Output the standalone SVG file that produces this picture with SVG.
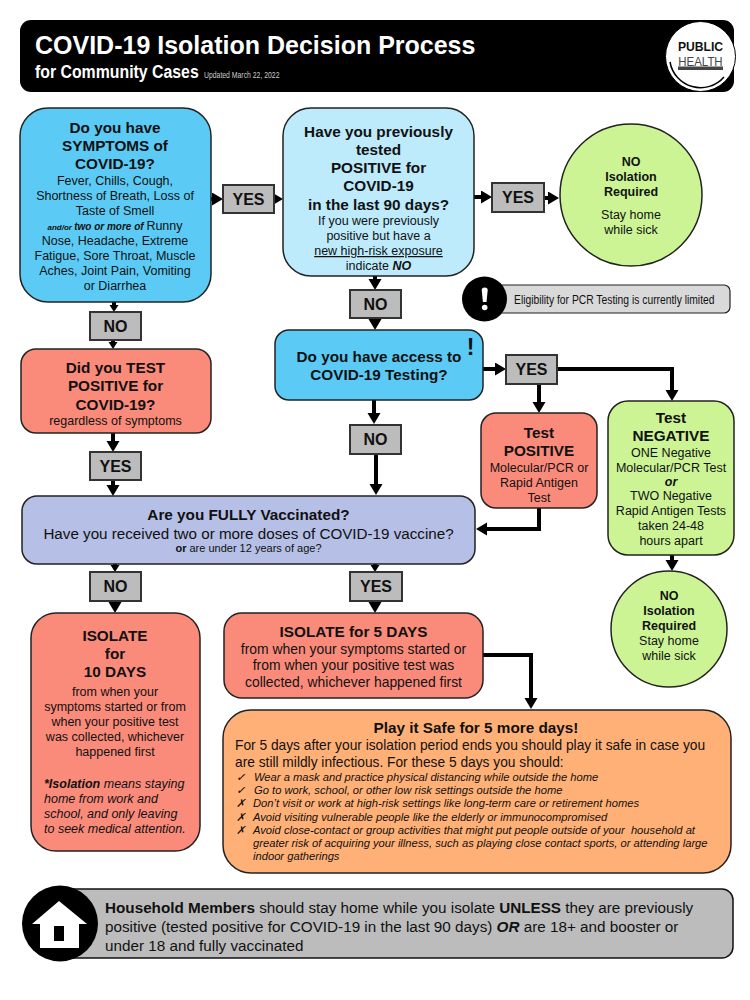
<svg xmlns="http://www.w3.org/2000/svg" width="750" height="1000" viewBox="0 0 750 1000">
<style>
text{font-family:"Liberation Sans",Arial,sans-serif;text-anchor:middle;fill:#111}
.h{font-weight:bold;font-size:15.3px}
.b{font-size:12.5px}
.nb{font-size:12.5px;font-weight:bold}
.l{text-anchor:start}
.i{font-style:italic;font-size:11.2px;text-anchor:start}
.lab{font-weight:bold;font-size:16px}
.box{stroke:#222;stroke-width:1.5}
.tag{fill:#bcbcbc;stroke:#333;stroke-width:2}
.c{fill:none;stroke:#000;stroke-width:4}
.s{marker-end:url(#s)}
.a{marker-end:url(#a)}
</style>
<defs>
<marker id="a" markerUnits="userSpaceOnUse" markerWidth="14" markerHeight="14" refX="3" refY="6.500" orient="auto"><path d="M0 0L11 6.500L0 13Z" fill="#000"/></marker>
<marker id="s" markerUnits="userSpaceOnUse" markerWidth="10" markerHeight="10" refX="0" refY="4.500" orient="auto"><path d="M0 0L7 4.500L0 9Z" fill="#000"/></marker>
</defs>
<rect width="750" height="1000" fill="#fff"/>
<g id="header">
<rect x="20" y="20" width="714" height="72" rx="11" fill="#000"/>
<text class="l" x="35" y="54" font-size="25" font-weight="bold" style="fill:#fff">COVID-19 Isolation Decision Process</text>
<text class="l" transform="translate(35 78) scale(.834 1)" font-size="19" font-weight="bold" style="fill:#fff">for Community Cases</text>
<text class="l" transform="translate(204 78) scale(.807 1)" font-size="8.500" style="fill:#ccc">Updated March 22, 2022</text>
<circle cx="700.500" cy="56.500" r="35" fill="#fff" stroke="#000" stroke-width="1"/>
<path d="M670 62A31 31 0 0 0 724 77" fill="none" stroke="#000" stroke-width="1.500"/>
<text transform="translate(700.500 50.500) scale(.9 1)" font-size="13.500" font-weight="bold">PUBLIC</text>
<text transform="translate(700.500 65.500) scale(.88 1)" font-size="13" style="fill:#444">HEALTH</text>
<rect x="678" y="66.500" width="45" height="3.500" fill="#444"/>
</g>
<g id="connectors">
<path class="c a" d="M211 199H215"/>
<path class="c a" d="M274 199H275"/>
<path class="c a" d="M474 197H484"/>
<path class="c a" d="M544 198H551"/>
<path class="c s" d="M114 302V305"/>
<path class="c s" d="M113 340V342"/>
<path class="c a" d="M113 433V444"/>
<path class="c a" d="M113 480V488"/>
<path class="c a" d="M375 276V282"/>
<path class="c a" d="M375 318V322"/>
<path class="c a" d="M374 400V416"/>
<path class="c a" d="M376 454V487"/>
<path class="c a" d="M483 369H498"/>
<path class="c a" d="M539 384V405"/>
<path class="c a" d="M557 369H672V393"/>
<path class="c a" d="M539 508V529H484"/>
<path class="c a" d="M672 555V563"/>
<path class="c s" d="M115 564V565"/>
<path class="c a" d="M115 601V605"/>
<path class="c s" d="M375 564V565"/>
<path class="c a" d="M375 601V605"/>
<path class="c a" d="M483 655H531V701"/>
</g>
<g id="symptoms">
<rect class="box" x="20" y="108" width="191" height="194" rx="28" fill="#5bcbf5"/>
<text class="h" x="115" y="133">Do you have</text>
<text class="h" x="115" y="151">SYMPTOMS of</text>
<text class="h" x="115" y="169">COVID-19?</text>
<text class="b" x="115" y="185">Fever, Chills, Cough,</text>
<text class="b" x="115" y="200">Shortness of Breath, Loss of</text>
<text class="b" x="115" y="215">Taste of Smell</text>
<text class="b" x="115" y="230"><tspan font-style="italic" font-weight="bold" font-size="8">and/or </tspan><tspan font-style="italic" font-weight="bold" font-size="10">two or more of </tspan>Runny</text>
<text class="b" x="115" y="245">Nose, Headache, Extreme</text>
<text class="b" x="115" y="260">Fatigue, Sore Throat, Muscle</text>
<text class="b" x="115" y="275">Aches, Joint Pain, Vomiting</text>
<text class="b" x="115" y="290">or Diarrhea</text>
</g>
<g id="prev-positive">
<rect class="box" x="283" y="108" width="191" height="168" rx="28" fill="#bdebfc"/>
<text class="h" x="378.500" y="137">Have you previously</text>
<text class="h" x="378.500" y="155">tested</text>
<text class="h" x="378.500" y="173">POSITIVE for</text>
<text class="h" x="378.500" y="191">COVID-19</text>
<text class="h" x="378.500" y="210">in the last 90 days?</text>
<text class="b" x="378.500" y="225">If you were previously</text>
<text class="b" x="378.500" y="240">positive but have a</text>
<text class="b" x="378.500" y="255" text-decoration="underline">new high-risk exposure</text>
<text class="b" x="378.500" y="270">indicate <tspan font-weight="bold" font-style="italic">NO</tspan></text>
</g>
<g id="no-isolation-1">
<circle cx="631" cy="195" r="71" fill="#ccf495" stroke="#222" stroke-width="1.500"/>
<text class="nb" x="631" y="166">NO</text>
<text class="nb" x="631" y="181">Isolation</text>
<text class="nb" x="631" y="196">Required</text>
<text class="b" x="631" y="219">Stay home</text>
<text class="b" x="631" y="234">while sick</text>
</g>
<g id="eligibility">
<rect x="480" y="285" width="250" height="28" rx="6" fill="#d9d9d9" stroke="#222" stroke-width="1.200"/>
<circle cx="484.500" cy="299" r="22.500" fill="#000"/>
<path d="M481.700 290Q481.700 287.500 484.700 287.500Q487.700 287.500 487.700 290L486.500 302H482.900Z" fill="#fff"/>
<circle cx="484.700" cy="307.500" r="2.800" fill="#fff"/>
<text class="l" transform="translate(514 304) scale(.86 1)" font-size="12">Eligibility for PCR Testing is currently limited</text>
</g>
<g id="access">
<rect class="box" x="275" y="330" width="208" height="70" rx="14" fill="#5bcbf5"/>
<text class="h" x="379" y="362">Do you have access to</text>
<text class="h" x="379" y="380">COVID-19 Testing?</text>
<text x="470.700" y="355" font-size="23" font-weight="bold">!</text>
</g>
<g id="test-positive">
<rect class="box" x="481" y="413" width="116" height="95" rx="15" fill="#fa8b7b"/>
<text class="h" x="539" y="438">Test</text>
<text class="h" x="539" y="456">POSITIVE</text>
<text class="b" x="539" y="472">Molecular/PCR or</text>
<text class="b" x="539" y="487">Rapid Antigen</text>
<text class="b" x="539" y="502">Test</text>
</g>
<g id="test-negative">
<rect class="box" x="608" y="401" width="126" height="154" rx="20" fill="#ccf495"/>
<text class="h" x="671" y="423">Test</text>
<text class="h" x="671" y="441">NEGATIVE</text>
<text class="b" x="671" y="457">ONE Negative</text>
<text class="b" x="671" y="472">Molecular/PCR Test</text>
<text class="b" x="671" y="486" font-weight="bold" font-style="italic">or</text>
<text class="b" x="671" y="500">TWO Negative</text>
<text class="b" x="671" y="515">Rapid Antigen Tests</text>
<text class="b" x="671" y="530">taken 24-48</text>
<text class="b" x="671" y="545">hours apart</text>
</g>
<g id="no-isolation-2">
<circle cx="669" cy="629" r="58" fill="#ccf495" stroke="#222" stroke-width="1.500"/>
<text class="nb" x="669" y="600">NO</text>
<text class="nb" x="669" y="615">Isolation</text>
<text class="nb" x="669" y="630">Required</text>
<text class="b" x="669" y="645">Stay home</text>
<text class="b" x="669" y="660">while sick</text>
</g>
<g id="did-test">
<rect class="box" x="21" y="349" width="190" height="84" rx="15" fill="#fa8b7b"/>
<text class="h" x="115.500" y="373">Did you TEST</text>
<text class="h" x="115.500" y="391">POSITIVE for</text>
<text class="h" x="115.500" y="410">COVID-19?</text>
<text class="b" x="115.500" y="425">regardless of symptoms</text>
</g>
<g id="vaccinated">
<rect class="box" x="22" y="496" width="453" height="68" rx="15" fill="#b6bfe6"/>
<text class="h" x="248.500" y="520">Are you FULLY Vaccinated?</text>
<text x="248.500" y="539" font-size="15.200">Have you received two or more doses of COVID-19 vaccine?</text>
<text x="248.500" y="552" font-size="11"><tspan font-weight="bold">or</tspan> are under 12 years of age?</text>
</g>
<g id="isolate-10">
<rect class="box" x="31" y="613" width="169" height="238" rx="25" fill="#fa8b7b"/>
<text class="h" x="115" y="641">ISOLATE</text>
<text class="h" x="115" y="659">for</text>
<text class="h" x="115" y="677">10 DAYS</text>
<text class="b" x="115" y="696">from when your</text>
<text class="b" x="115" y="711">symptoms started or from</text>
<text class="b" x="115" y="726">when your positive test</text>
<text class="b" x="115" y="741">was collected, whichever</text>
<text class="b" x="115" y="756">happened first</text>
<text class="b l" x="44" y="788" font-style="italic"><tspan font-weight="bold">*Isolation</tspan> means staying</text>
<text class="b l" x="44" y="803" font-style="italic">home from work and</text>
<text class="b l" x="44" y="818" font-style="italic">school, and only leaving</text>
<text class="b l" x="44" y="833" font-style="italic">to seek medical attention.</text>
</g>
<g id="isolate-5">
<rect class="box" x="224" y="613" width="259" height="85" rx="18" fill="#fa8b7b"/>
<text class="h" x="353.500" y="637">ISOLATE for 5 DAYS</text>
<text x="353.500" y="654" font-size="13.900">from when your symptoms started or</text>
<text x="353.500" y="670" font-size="13.900">from when your positive test was</text>
<text x="353.500" y="687" font-size="13.900">collected, whichever happened first</text>
</g>
<g id="play-safe">
<rect class="box" x="223" y="710" width="508" height="163" rx="28" fill="#ffb077"/>
<text class="h" x="476" y="733">Play it Safe for 5 more days!</text>
<text class="l" x="235" y="750" font-size="13.750">For 5 days after your isolation period ends you should play it safe in case you</text>
<text class="l" x="235" y="767" font-size="13.750">are still mildly infectious. For these 5 days you should:</text>
<text class="i" x="236" y="781">✓</text><text class="i" x="254" y="781">Wear a mask and practice physical distancing while outside the home</text>
<text class="i" x="236" y="794">✓</text><text class="i" x="254" y="794">Go to work, school, or other low risk settings outside the home</text>
<text class="i" x="236" y="807">✗</text><text class="i" x="253" y="807">Don’t visit or work at high-risk settings like long-term care or retirement homes</text>
<text class="i" x="236" y="821">✗</text><text class="i" x="253" y="821">Avoid visiting vulnerable people like the elderly or immunocompromised</text>
<text class="i" x="236" y="834">✗</text><text class="i" x="253" y="834">Avoid close-contact or group activities that might put people outside of your&#160; household at</text>
<text class="i" x="253" y="847">greater risk of acquiring your illness, such as playing close contact sports, or attending large</text>
<text class="i" x="253" y="860">indoor gatherings</text>
</g>
<g id="household">
<rect x="50" y="889" width="683" height="69" rx="11" fill="#bcbcbc" stroke="#111" stroke-width="1.500"/>
<circle cx="60" cy="923.500" r="38" fill="#000"/>
<path d="M59 901L87 924H79V948H40V924H32Z" fill="#fff"/>
<rect x="54" y="926" width="10" height="15" fill="#000"/>
<text class="l" x="105" y="913" font-size="15.250"><tspan font-weight="bold">Household Members</tspan> should stay home while you isolate <tspan font-weight="bold">UNLESS</tspan> they are previously</text>
<text class="l" x="105" y="932" font-size="15.250">positive (tested positive for COVID-19 in the last 90 days) <tspan font-weight="bold" font-style="italic">OR</tspan> are 18+ and booster or</text>
<text class="l" x="105" y="951" font-size="15.250">under 18 and fully vaccinated</text>
</g>
<g id="labels">
<rect class="tag" x="223" y="185" width="51" height="28"/><text class="lab" x="248.500" y="205">YES</text>
<rect class="tag" x="492" y="183" width="52" height="29"/><text class="lab" x="518" y="203">YES</text>
<rect class="tag" x="90" y="312" width="51" height="28"/><text class="lab" x="115.500" y="332">NO</text>
<rect class="tag" x="350" y="290" width="51" height="28"/><text class="lab" x="375.500" y="310">NO</text>
<rect class="tag" x="506" y="355" width="51" height="29"/><text class="lab" x="531.500" y="375">YES</text>
<rect class="tag" x="350" y="425" width="51" height="29"/><text class="lab" x="375.500" y="445">NO</text>
<rect class="tag" x="90" y="452" width="51" height="28"/><text class="lab" x="115.500" y="472">YES</text>
<rect class="tag" x="90" y="572" width="51" height="29"/><text class="lab" x="115.500" y="592">NO</text>
<rect class="tag" x="350" y="572" width="52" height="29"/><text class="lab" x="376" y="592">YES</text>
</g>
</svg>
